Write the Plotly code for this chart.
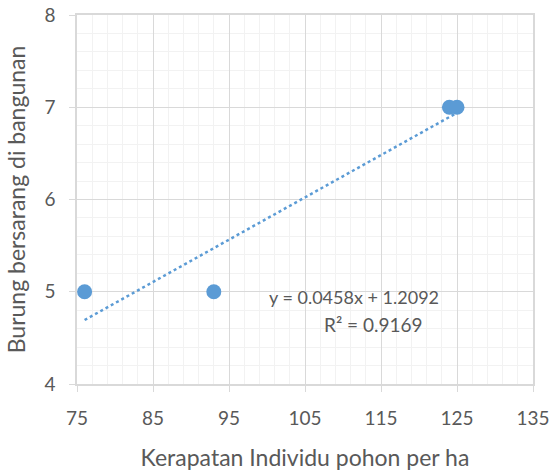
import numpy as np
import plotly.graph_objects as go

x_vals = [76, 93, 124, 125]
y_vals = [5, 5, 7, 7]
x_ticks = [75, 85, 95, 105, 115, 125, 135]
y_ticks = [4, 5, 6, 7, 8]
eq_text = "y = 0.0458x + 1.2092"
r2_text = "R² = 0.9169"

slope, intercept = np.polyfit(x_vals, y_vals, 1)
tx = [min(x_vals), max(x_vals)]
ty = [slope * v + intercept for v in tx]

blue = "#5b9bd5"
txt = "#595959"
font = "Lato"

fig = go.Figure()
fig.add_trace(go.Scatter(x=tx, y=ty, mode="lines",
                         line=dict(color=blue, width=2.5, dash="dot"),
                         showlegend=False, hoverinfo="skip"))
fig.add_trace(go.Scatter(x=x_vals, y=y_vals, mode="markers",
                         marker=dict(color=blue, size=15),
                         showlegend=False))

fig.add_annotation(x=111.4, y=4.94, text=eq_text, showarrow=False,
                   font=dict(family=font, size=18, color=txt))
fig.add_annotation(x=113.95, y=4.64, text=r2_text, showarrow=False,
                   font=dict(family=font, size=19, color=txt))

fig.update_layout(
    width=554, height=471,
    margin=dict(l=77, r=21, t=15, b=87),
    paper_bgcolor="white", plot_bgcolor="white",
    font=dict(family=font, size=18, color=txt),
    xaxis=dict(range=[75, 135], tickvals=x_ticks, showgrid=True,
               gridcolor="#d9d9d9", gridwidth=1, automargin=False,
               minor=dict(dtick=2, tick0=75, showgrid=True, gridcolor="#f2f2f2", gridwidth=1),
               showline=True, linecolor="#d9d9d9", linewidth=1.5, mirror=True,
               ticks="outside", ticklen=6, tickcolor="#d9d9d9",
               ticklabelstandoff=10, ticklabeloverflow="allow",
               zeroline=False,
               title=dict(text="Kerapatan Individu pohon per ha",
                          font=dict(family=font, size=23, color=txt), standoff=32),
               tickfont=dict(family=font, size=19, color=txt)),
    yaxis=dict(range=[4, 8], tickvals=y_ticks, showgrid=True,
               gridcolor="#d9d9d9", gridwidth=1, automargin=False,
               minor=dict(dtick=0.2, tick0=4, showgrid=True, gridcolor="#f2f2f2", gridwidth=1),
               showline=True, linecolor="#d9d9d9", linewidth=1.5, mirror=True,
               ticks="outside", ticklen=6, tickcolor="#d9d9d9",
               ticklabelstandoff=10, ticklabeloverflow="allow",
               zeroline=False,
               title=dict(text="Burung bersarang di bangunan",
                          font=dict(family=font, size=23, color=txt), standoff=12),
               tickfont=dict(family=font, size=19, color=txt)),
)

# remove the browser's default 8px page margin so the figure fills the window
fig.write_html("out.html", config={"displayModeBar": False},
               post_script="document.body.style.margin='0';")
